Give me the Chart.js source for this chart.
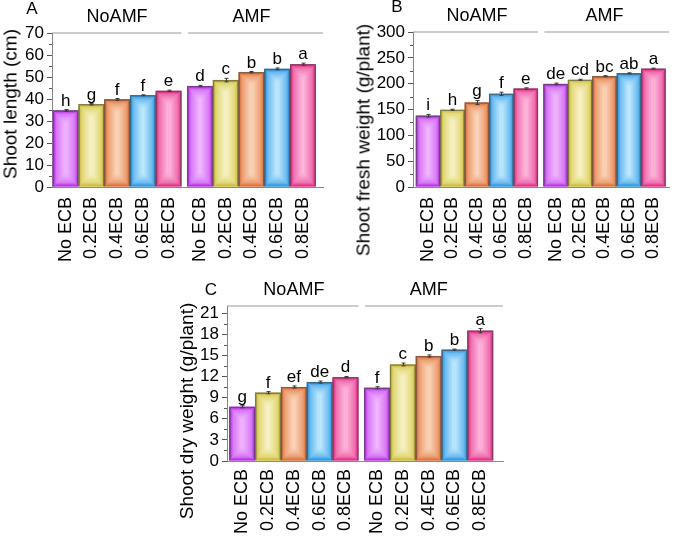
<!DOCTYPE html>
<html>
<head>
<meta charset="utf-8">
<script src="https://cdn.jsdelivr.net/npm/chart.js@4"></script>
<style>
  body { margin: 0; background: #fff; }
  #fig { position: relative; width: 685px; height: 536px; overflow: hidden; font-family: 'Liberation Sans', Arial, sans-serif; }
  canvas { position: absolute; }
  .lbl { position: absolute; transform: translate(-50%, -50%); white-space: nowrap; color: #000; line-height: 1; }
  .ytitle { font-size: 19px; transform: translate(-50%, -50%) rotate(-90deg); }
  .panel { font-size: 17px; }
</style>
</head>
<body>
<div id="fig">
  <canvas id="chartA" width="343" height="268" style="left:0;top:0"></canvas>
  <canvas id="chartB" width="342" height="268" style="left:343px;top:0"></canvas>
  <canvas id="chartC" width="360" height="268" style="left:160px;top:268px"></canvas>
  <div class="lbl panel" style="left:32px;top:8px">A</div>
  <div class="lbl panel" style="left:397px;top:6px">B</div>
  <div class="lbl panel" style="left:211px;top:289px">C</div>
  <div class="lbl ytitle" style="left:10px;top:104px">Shoot length (cm)</div>
  <div class="lbl ytitle" style="left:363px;top:140px">Shoot fresh weight (g/plant)</div>
  <div class="lbl ytitle" style="left:186px;top:411px">Shoot dry weight (g/plant)</div>
</div>
<script>
const treatments = ['No ECB', '0.2ECB', '0.4ECB', '0.6ECB', '0.8ECB'];
const groups = ['NoAMF', 'AMF'];

// Shoot length (cm)
const lengthNoAMF = [34.8, 37.6, 39.8, 41.7, 43.7];
const lengthAMF = [45.9, 48.6, 52.2, 53.7, 55.8];
const lengthErrNoAMF = [0.4, 0.3, 0.4, 0.2, 0.3];
const lengthErrAMF = [0.3, 0.8, 0.3, 0.4, 0.5];
const lengthLetters = ['h', 'g', 'f', 'f', 'e', 'd', 'c', 'b', 'b', 'a'];

// Shoot fresh weight (g/plant)
const freshNoAMF = [138, 149.5, 163.5, 180.5, 190.5];
const freshAMF = [199.5, 207.5, 214.5, 220, 229];
const freshErrNoAMF = [2.5, 1, 4, 3, 1.5];
const freshErrAMF = [1.5, 1, 1, 1, 1];
const freshLetters = ['i', 'h', 'g', 'f', 'e', 'de', 'cd', 'bc', 'ab', 'a'];

// Shoot dry weight (g/plant)
const dryNoAMF = [7.7, 9.7, 10.5, 11.2, 11.9];
const dryAMF = [10.4, 13.7, 14.9, 15.8, 18.5];
const dryErrNoAMF = [0.15, 0.15, 0.15, 0.15, 0.1];
const dryErrAMF = [0.15, 0.2, 0.15, 0.08, 0.3];
const dryLetters = ['g', 'f', 'ef', 'de', 'd', 'f', 'c', 'b', 'b', 'a'];

// y axis ticks
const lengthTicks = { max: 70, step: 10 };
const freshTicks = { max: 300, step: 50 };
const dryTicks = { max: 22, step: 3 };

const GAP = 0.22;
const FONT = "'Liberation Sans', Arial, sans-serif";
const barEdge = ['#b01ee2', '#c7b42a', '#d8662a', '#1e8ee0', '#e01e7a'];
const barMid = ['#d878f6', '#e2d878', '#ec9e72', '#6cbcf0', '#f070b0'];
const barCenter = ['#f2baff', '#f9f4cc', '#fbd9c0', '#c6ecff', '#ffbce0'];

Chart.defaults.font.family = FONT;

function xPos(i) {
  return Math.floor(i / 5) * (5 + GAP) + i % 5;
}

function shadeBar(ctx, x0, y0, x1, y1, c) {
  const cx = (x0 + x1) / 2;
  const hw = Math.min((x1 - x0) / 2, (y1 - y0) / 2);
  const yt = y0 + hw, yb = y1 - hw;
  const grad = (ax, ay, bx, by) => {
    const g = ctx.createLinearGradient(ax, ay, bx, by);
    g.addColorStop(0, c[0]);
    g.addColorStop(0.3, c[1]);
    g.addColorStop(1, c[2]);
    return g;
  };
  const poly = (pts, fill) => {
    ctx.beginPath();
    pts.forEach(([px, py], k) => k ? ctx.lineTo(px, py) : ctx.moveTo(px, py));
    ctx.closePath();
    ctx.fillStyle = fill;
    ctx.fill();
  };
  ctx.fillStyle = c[1];
  ctx.fillRect(x0, y0, x1 - x0, y1 - y0);
  poly([[x0, y0], [cx, yt], [cx, yb], [x0, y1]], grad(x0, 0, cx, 0));
  poly([[x1, y0], [cx, yt], [cx, yb], [x1, y1]], grad(x1, 0, cx, 0));
  poly([[x0, y0], [x1, y0], [cx, yt]], grad(0, y0, 0, yt));
  poly([[x0, y1], [x1, y1], [cx, yb]], grad(0, y1, 0, yb));
}

const figPlugin = {
  id: 'fig',
  beforeDatasetsDraw(chart) {
    const ctx = chart.ctx;
    const meta = chart.getDatasetMeta(0);
    ctx.save();
    meta.data.forEach((bar, i) => {
      const p = bar.getProps(['x', 'y', 'base', 'width'], true);
      const k = i % 5;
      shadeBar(ctx, p.x - p.width / 2, p.y, p.x + p.width / 2, p.base, [barEdge[k], barMid[k], barCenter[k]]);
    });
    ctx.restore();
  },
  afterDatasetsDraw(chart, args, opts) {
    const { ctx, scales: { y } } = chart;
    const meta = chart.getDatasetMeta(0);
    const vals = chart.data.datasets[0].data;
    ctx.save();
    ctx.strokeStyle = '#3a3a3a';
    ctx.lineWidth = 1;
    ctx.fillStyle = '#000';
    ctx.font = '17px ' + FONT;
    ctx.textAlign = 'center';
    ctx.textBaseline = 'alphabetic';
    meta.data.forEach((bar, i) => {
      const v = vals[i].y, e = opts.errors[i];
      const px = Math.round(bar.x) + 0.5;
      const top = y.getPixelForValue(v + e), bot = y.getPixelForValue(v - e);
      ctx.beginPath();
      ctx.moveTo(px, top); ctx.lineTo(px, bot);
      ctx.moveTo(px - 2, top); ctx.lineTo(px + 2, top);
      ctx.moveTo(px - 2, bot); ctx.lineTo(px + 2, bot);
      ctx.stroke();
      ctx.fillText(opts.letters[i], bar.x, top - 4);
    });
    ctx.restore();
  },
  afterDraw(chart, args, opts) {
    const { ctx, chartArea, scales: { x, y } } = chart;
    ctx.save();
    // group lines and labels
    const g1End = x.getPixelForValue(4.5);
    const g2Start = x.getPixelForValue(5 + GAP - 0.5) + 1;
    ctx.strokeStyle = '#9a9a9a';
    ctx.lineWidth = 1.2;
    ctx.beginPath();
    ctx.moveTo(chartArea.left, chartArea.top); ctx.lineTo(g1End, chartArea.top);
    ctx.moveTo(g2Start, chartArea.top); ctx.lineTo(chartArea.right, chartArea.top);
    ctx.stroke();
    ctx.fillStyle = '#000';
    ctx.font = '18px ' + FONT;
    ctx.textAlign = 'center';
    ctx.textBaseline = 'middle';
    ctx.fillText(groups[0], x.getPixelForValue(2), chartArea.top - 16);
    ctx.fillText(groups[1], x.getPixelForValue(7 + GAP), chartArea.top - 16);
    // minor ticks
    ctx.strokeStyle = '#555';
    ctx.lineWidth = 1;
    ctx.beginPath();
    for (let v = opts.minor; v < y.max; v += opts.minor * 2) {
      const py = Math.round(y.getPixelForValue(v)) + 0.5;
      ctx.moveTo(chartArea.left - 3, py); ctx.lineTo(chartArea.left, py);
    }
    ctx.stroke();
    ctx.restore();
  }
};

function makeChart(id, p) {
  const values = p.noAMF.concat(p.amf);
  const errors = p.errNoAMF.concat(p.errAMF);
  const labels = treatments.concat(treatments);
  const positions = values.map((v, i) => xPos(i));
  return new Chart(document.getElementById(id), {
    type: 'bar',
    data: {
      datasets: [{
        data: values.map((v, i) => ({ x: positions[i], y: v })),
        backgroundColor: 'rgba(0,0,0,0)',
        borderColor: 'rgba(70,70,70,0.55)',
        borderWidth: 1,
        barPercentage: 1,
        categoryPercentage: 1
      }]
    },
    options: {
      responsive: false,
      animation: false,
      devicePixelRatio: 1,
      layout: { padding: p.padding },
      plugins: {
        legend: { display: false },
        tooltip: { enabled: false },
        fig: { errors: errors, letters: p.letters, minor: p.ticks.step / 2 }
      },
      scales: {
        x: {
          type: 'linear',
          min: p.xMin,
          max: p.xMax,
          offset: false,
          afterBuildTicks: s => { s.ticks = positions.map(v => ({ value: v })); },
          afterFit: s => { s.height = p.xHeight; },
          ticks: {
            autoSkip: false,
            minRotation: 90,
            maxRotation: 90,
            padding: p.xPad,
            color: '#000',
            font: { size: 18 },
            callback: (v, i) => labels[i]
          },
          grid: { drawOnChartArea: false, drawTicks: false, offset: false },
          border: { color: '#888', width: 1 }
        },
        y: {
          min: 0,
          max: p.ticks.max,
          afterFit: s => { s.width = p.yWidth; },
          ticks: {
            stepSize: p.ticks.step,
            includeBounds: false,
            autoSkip: false,
            padding: 3,
            color: '#000',
            font: { size: 17 }
          },
          grid: { drawOnChartArea: false, tickLength: 5, color: '#555' },
          border: { color: '#888', width: 1 }
        }
      }
    },
    plugins: [figPlugin]
  });
}

makeChart('chartA', {
  noAMF: lengthNoAMF, amf: lengthAMF, errNoAMF: lengthErrNoAMF, errAMF: lengthErrAMF,
  letters: lengthLetters, ticks: lengthTicks,
  padding: { left: 0, top: 33, right: 20, bottom: 0 },
  yWidth: 52, xHeight: 81, xMin: -0.53, xMax: 10.0, xPad: 10
});

makeChart('chartB', {
  noAMF: freshNoAMF, amf: freshAMF, errNoAMF: freshErrNoAMF, errAMF: freshErrAMF,
  letters: freshLetters, ticks: freshTicks,
  padding: { left: 0, top: 32, right: 0, bottom: 0 },
  yWidth: 70, xHeight: 81, xMin: -0.615, xMax: 9.86, xPad: 10
});

makeChart('chartC', {
  noAMF: dryNoAMF, amf: dryAMF, errNoAMF: dryErrNoAMF, errAMF: dryErrAMF,
  letters: dryLetters, ticks: dryTicks,
  padding: { left: 0, top: 38, right: 17, bottom: 0 },
  yWidth: 67, xHeight: 75, xMin: -0.59, xMax: 10.1, xPad: 8
});
</script>
</body>
</html>
